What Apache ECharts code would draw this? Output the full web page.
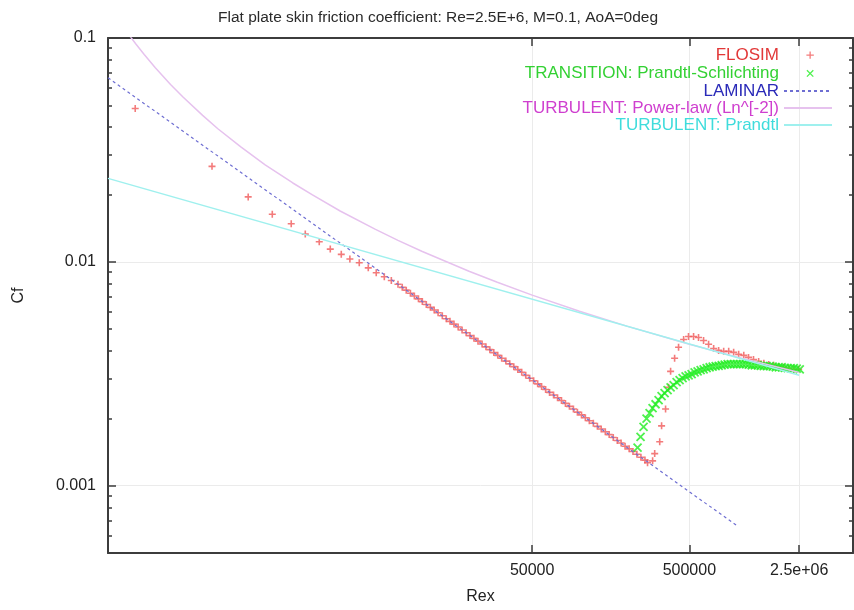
<!DOCTYPE html>
<html>
<head>
<meta charset="utf-8">
<script src="https://cdn.jsdelivr.net/npm/echarts@6/dist/echarts.min.js"></script>
<style>
html,body{margin:0;padding:0;background:#fff;}
#chart{width:854px;height:610px;}
</style>
</head>
<body>
<div id="chart"></div>
<script>
// ---- data ----
const seriesNames = [
  'FLOSIM',
  'TRANSITION: Prandtl-Schlichting',
  'LAMINAR',
  'TURBULENT: Power-law (Ln^[-2])',
  'TURBULENT: Prandtl'
];

const flosimRe = [
  149, 459, 780, 1110, 1465, 1800, 2209, 2596, 3050, 3460, 3970, 4530, 5090, 5730, 6350,
  7000, 7450, 7900, 8400, 8900, 9450,
  10000, 10600, 11250, 11900, 12600, 13400, 14200, 15000, 15900, 16900, 17900, 19000,
  20100, 21300, 22600, 24000, 25400, 26900, 28500, 30200, 32000, 34000, 36000, 38200, 40500, 42900, 45500, 48200,
  51100, 54200, 57400, 60900, 64500, 68400, 72500, 76800, 81400, 86300, 91500, 97000,
  103000, 109000, 115500, 122500, 130000, 137500, 146000, 154500, 164000, 174000, 184000, 195000,
  207000, 219000, 232000, 246000, 261000,
  271000, 292000, 301000, 324000, 333000, 353000, 369000, 380000, 403000, 427000,
  460000, 494000, 532000, 572000, 616000, 663000, 714000, 768000, 827000, 890000,
  957000, 1030000, 1110000, 1190000, 1280000, 1380000, 1490000, 1600000, 1720000, 1850000,
  1990000, 2140000, 2310000, 2480000
];
const flosimCf = [
  0.0484, 0.0267, 0.0195, 0.0163, 0.0148, 0.0133, 0.0123, 0.0114, 0.0108, 0.0103, 0.0099, 0.0094, 0.00894, 0.00858, 0.00825,
  0.00794, 0.00769, 0.00747, 0.00724, 0.00704, 0.00683,
  0.00664, 0.00645, 0.00626, 0.00609, 0.00592, 0.00574, 0.00557, 0.00542, 0.00527, 0.00511, 0.00496, 0.00482,
  0.00468, 0.00455, 0.00442, 0.00429, 0.00417, 0.00405, 0.00393, 0.00382, 0.00371, 0.00360, 0.00350, 0.00340, 0.00330, 0.00321, 0.00311, 0.00302,
  0.00294, 0.00285, 0.00277, 0.00269, 0.00261, 0.00254, 0.00247, 0.00240, 0.00233, 0.00226, 0.00220, 0.00213,
  0.00207, 0.00201, 0.00195, 0.00190, 0.00184, 0.00179, 0.00174, 0.00169, 0.00164, 0.00159, 0.00155, 0.00150,
  0.00146, 0.00142, 0.00138, 0.00134, 0.00130,
  0.001265, 0.00129, 0.00139, 0.00157, 0.00185, 0.00220, 0.00275, 0.00324, 0.00371, 0.00415,
  0.00450, 0.00464, 0.00464, 0.00459, 0.00445, 0.00428, 0.00410, 0.00402, 0.00398, 0.00398,
  0.00394, 0.00386, 0.00382, 0.00374, 0.00366, 0.00359, 0.00352, 0.00348, 0.00345, 0.00341,
  0.00338, 0.00334, 0.00331, 0.00331
];

const transRe = [
  234200, 244700, 255700, 267200, 279300, 291800, 304900, 318700, 333000, 348000,
  363600, 380000, 397100, 415000, 433600, 453100, 473500, 494800, 517100, 540300,
  564600, 590000, 616600, 644300, 673300, 703600, 735200, 768300, 802900, 839000,
  876700, 916200, 957400, 1000500, 1045500, 1092500, 1141700, 1193000, 1246700, 1302800,
  1361400, 1422700, 1486700, 1553600, 1623500, 1696500, 1772900, 1852600, 1936000, 2023100,
  2114100, 2209300, 2308700, 2412600, 2521100
];
const transCf = [
  0.00148, 0.00165, 0.00183, 0.00199, 0.00211, 0.00222, 0.00231, 0.00241, 0.00251, 0.00259,
  0.00267, 0.00275, 0.00281, 0.00290, 0.00296, 0.00302, 0.00308, 0.00311, 0.00315, 0.00321,
  0.00324, 0.00328, 0.00331, 0.00335, 0.00338, 0.00340, 0.00342, 0.00343, 0.00345, 0.00347,
  0.00349, 0.00349, 0.00349, 0.00349, 0.00349, 0.00349, 0.00349, 0.00347, 0.00345, 0.00345,
  0.00345, 0.00343, 0.00342, 0.00342, 0.00342, 0.00340, 0.00338, 0.00338, 0.00338, 0.00336,
  0.00335, 0.00335, 0.00335, 0.00333, 0.00331
];

const laminarRe = [100, 1000000];
const laminarCf = [0.0664, 0.000664];

const powerRe = [130, 150, 170, 200, 250, 300, 400, 500, 700, 1000, 1500, 2000, 3000, 5000, 7000,
  10000, 20000, 30000, 50000, 100000, 200000, 500000, 1000000, 2500000];
const powerCf = [0.1078, 0.0942, 0.0844, 0.0737, 0.0620, 0.0545, 0.0451, 0.0393, 0.0326, 0.0271, 0.0225, 0.0199, 0.01687, 0.01399, 0.01247,
  0.01112, 0.00905, 0.00810, 0.00710, 0.00601, 0.00516, 0.00428, 0.00376, 0.00320];

const prandtlRe = [100, 2500000];
const prandtlCf = [0.0236, 0.00311];

const xTicks = [50000, 500000, 2500000];
const yTicks = [0.001, 0.01, 0.1];
const yMinorTicks = [0.0006, 0.0007, 0.0008, 0.0009,
  0.002, 0.003, 0.004, 0.005, 0.006, 0.007, 0.008, 0.009,
  0.02, 0.03, 0.04, 0.05, 0.06, 0.07, 0.08, 0.09];

const titleText = 'Flat plate skin friction coefficient: Re=2.5E+6, M=0.1, AoA=0deg';

// ---- chart ----
const pairs = (a, b) => a.map((v, i) => [v, b[i]]);
const FONT = 'Liberation Sans, Arial, Helvetica, sans-serif';
const LINE = '#3c3c3c';
const X_MIN = 100, X_MAX = 5.5e6, Y_MIN = 0.0005, Y_MAX = 0.1;

function fmtX(v) {
  const r = Math.round(v);
  if (r >= 1e6) {
    const e = Math.floor(Math.log10(r));
    const m = +(r / Math.pow(10, e)).toPrecision(3);
    return m + 'e+' + String(e).padStart(2, '0');
  }
  return String(r);
}
function fmtY(v) { return String(+(+v).toPrecision(3)); }

const colors = {
  flosim: '#f05a5a', trans: '#22ee22', laminar: '#6e6ed2', power: '#e6c2ee', prandtl: '#9ff0ee'
};
const textColors = ['#e23838', '#33d133', '#2a2ab8', '#cf3fcf', '#3fdcdc'];

const axisText = { fontFamily: FONT, fontSize: 16, color: '#222' };

function xAxisDef(pos, main) {
  return {
    type: 'log', min: X_MIN, max: X_MAX, position: pos, gridIndex: 0,
    name: main ? 'Rex' : '', nameLocation: 'middle', nameGap: 36,
    nameTextStyle: axisText,
    axisLine: { show: true, onZero: false, lineStyle: { color: LINE, width: 2 } },
    axisTick: { show: true, inside: true, length: 8, customValues: xTicks, lineStyle: { color: LINE, width: 1.5 } },
    axisLabel: { show: main, customValues: xTicks, margin: 10, formatter: fmtX, fontFamily: FONT, fontSize: 16, color: '#222' },
    splitLine: { show: main, lineStyle: { color: '#ebebeb', width: 1 } },
    minorTick: { show: false }, minorSplitLine: { show: false }
  };
}
function yAxisDef(pos, main, minor) {
  return {
    type: 'log', min: Y_MIN, max: Y_MAX, position: pos, gridIndex: 0,
    name: (main && !minor) ? 'Cf' : '', nameLocation: 'middle', nameGap: 81,
    nameTextStyle: axisText,
    axisLine: { show: !minor, onZero: false, lineStyle: { color: LINE, width: 2 } },
    axisTick: { show: true, inside: true, length: minor ? 4 : 8, customValues: minor ? yMinorTicks : yTicks, lineStyle: { color: LINE, width: 1.5 } },
    axisLabel: { show: main && !minor, customValues: yTicks, margin: 12, formatter: fmtY, fontFamily: FONT, fontSize: 16, color: '#222' },
    splitLine: { show: main && !minor, lineStyle: { color: '#ebebeb', width: 1 } },
    minorTick: { show: false }, minorSplitLine: { show: false }
  };
}

const hiddenSymbol = { color: 'rgba(0,0,0,0)', borderWidth: 0, opacity: 0 };

const option = {
  animation: false,
  backgroundColor: '#fff',
  textStyle: { fontFamily: FONT },
  title: {
    text: titleText, left: 213, top: 5,
    textStyle: { fontFamily: FONT, fontSize: 15.5, fontWeight: 'normal', color: '#2a2a2a' }
  },
  grid: { left: 108, right: 1, top: 38, bottom: 56, containLabel: false },
  legend: {
    orient: 'vertical', align: 'right', right: 21, top: 46, padding: 0, itemGap: 0,
    itemWidth: 48, itemHeight: 17,
    textStyle: { fontFamily: FONT, fontSize: 17, lineHeight: 17 },
    data: [
      { name: seriesNames[0], icon: 'path://M-10,-8M6,8M-3.5,0L3.5,0M0,-3.5L0,3.5',
        textStyle: { color: textColors[0] },
        itemStyle: { color: 'rgba(0,0,0,0)', borderColor: colors.flosim, borderWidth: 1.3 } },
      { name: seriesNames[1], icon: 'path://M-10,-8M6,8M-3,-3L3,3M-3,3L3,-3',
        textStyle: { color: textColors[1] },
        itemStyle: { color: 'rgba(0,0,0,0)', borderColor: colors.trans, borderWidth: 1.3 } },
      { name: seriesNames[2], textStyle: { color: textColors[2] }, itemStyle: hiddenSymbol },
      { name: seriesNames[3], textStyle: { color: textColors[3] }, itemStyle: hiddenSymbol },
      { name: seriesNames[4], textStyle: { color: textColors[4] }, itemStyle: hiddenSymbol }
    ]
  },
  xAxis: [xAxisDef('bottom', true), xAxisDef('top', false)],
  yAxis: [yAxisDef('left', true, false), yAxisDef('left', true, true),
          yAxisDef('right', false, false), yAxisDef('right', false, true)],
  series: [
    {
      type: 'scatter', name: seriesNames[0], xAxisIndex: 0, yAxisIndex: 0,
      data: pairs(flosimRe, flosimCf),
      symbol: 'path://M-1,0L1,0M0,-1L0,1', symbolSize: 7, symbolKeepAspect: true,
      itemStyle: { color: 'rgba(0,0,0,0)', borderColor: colors.flosim, borderWidth: 1.6 },
      silent: true, z: 2
    },
    {
      type: 'scatter', name: seriesNames[1], xAxisIndex: 0, yAxisIndex: 0,
      data: pairs(transRe, transCf),
      symbol: 'path://M-1,-1L1,1M-1,1L1,-1', symbolSize: 8, symbolKeepAspect: true,
      itemStyle: { color: 'rgba(0,0,0,0)', borderColor: colors.trans, borderWidth: 1.8 },
      silent: true, z: 3
    },
    {
      type: 'line', name: seriesNames[2], xAxisIndex: 0, yAxisIndex: 0,
      data: pairs(laminarRe, laminarCf), symbol: 'none',
      lineStyle: { color: colors.laminar, width: 1.2, type: [3, 3] },
      itemStyle: { color: colors.laminar },
      silent: true, z: 4
    },
    {
      type: 'line', name: seriesNames[3], xAxisIndex: 0, yAxisIndex: 0,
      data: pairs(powerRe, powerCf), symbol: 'none',
      lineStyle: { color: colors.power, width: 1.5 },
      itemStyle: { color: colors.power },
      silent: true, z: 4
    },
    {
      type: 'line', name: seriesNames[4], xAxisIndex: 0, yAxisIndex: 0,
      data: pairs(prandtlRe, prandtlCf), symbol: 'none',
      lineStyle: { color: colors.prandtl, width: 1.5 },
      itemStyle: { color: colors.prandtl },
      silent: true, z: 4
    }
  ]
};

const chart = echarts.init(document.getElementById('chart'), null, { renderer: 'canvas' });
chart.setOption(option);
</script>
</body>
</html>
